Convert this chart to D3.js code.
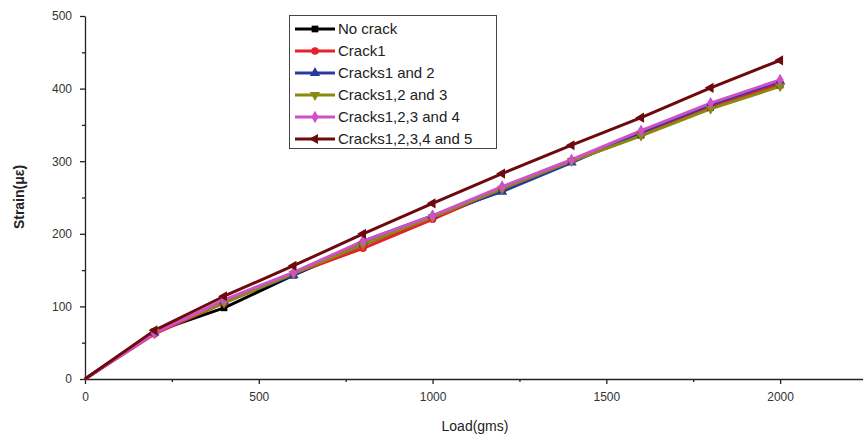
<!DOCTYPE html>
<html>
<head>
<meta charset="utf-8">
<script src="https://cdn.jsdelivr.net/npm/d3@7"></script>
<style>
  body { margin: 0; background: #fff; }
  svg { display: block; font-family: Arial, "Liberation Sans", sans-serif; }
</style>
</head>
<body>
<svg width="863" height="438"></svg>
<script>
// load values (gms)
var loads = [0, 200, 400, 600, 800, 1000, 1200, 1400, 1600, 1800, 2000];

// strain values per series
var noCrack   = [0, 65, 98, 143, 185, 222, 260, 300, 336, 374, 405];
var crack1    = [0, 62, 105, 145, 180, 220, 262, 300, 338, 375, 406];
var cracks12  = [0, 64, 107, 143, 190, 225, 258, 298, 340, 378, 410];
var cracks123 = [0, 65, 105, 145, 185, 223, 262, 300, 335, 372, 403];
var cracks1234 = [0, 63, 109, 147, 190, 225, 265, 302, 342, 380, 412];
var cracks12345 = [0, 67, 114, 156, 200, 242, 283, 322, 360, 401, 439];

var seriesNames = ["No crack", "Crack1", "Cracks1 and 2", "Cracks1,2 and 3", "Cracks1,2,3 and 4", "Cracks1,2,3,4 and 5"];
var seriesValues = [noCrack, crack1, cracks12, cracks123, cracks1234, cracks12345];
var colors = ["#000000", "#e8202a", "#2a3a9c", "#8a8a10", "#d050c8", "#6e0a0e"];
var symbols = [d3.symbolSquare, d3.symbolCircle, d3.symbolTriangle, d3.symbolTriangle, d3.symbolDiamond, d3.symbolTriangle];
var rotations = [0, 0, 0, 180, 0, -90];

var xTicks = [0, 500, 1000, 1500, 2000];
var yTicks = [0, 100, 200, 300, 400, 500];

var svg = d3.select("svg");

var x = d3.scaleLinear().domain([0, 2250]).range([85, 867]);
var y = d3.scaleLinear().domain([0, 500]).range([379, 16]);

// x axis
svg.append("g")
    .attr("transform", "translate(0," + y(0) + ")")
    .call(d3.axisBottom(x).tickValues(xTicks).tickFormat(d3.format("d")).tickSize(5).tickSizeOuter(0).tickPadding(8));
svg.append("g")
    .attr("transform", "translate(0," + y(0) + ")")
    .call(d3.axisBottom(x).tickValues([250, 750, 1250, 1750]).tickSize(3).tickFormat("").tickSizeOuter(0))
    .select(".domain").remove();

// y axis
svg.append("g")
    .attr("transform", "translate(" + x(0) + ",0)")
    .call(d3.axisLeft(y).tickValues(yTicks).tickFormat(d3.format("d")).tickSize(5).tickSizeOuter(0).tickPadding(8));
svg.append("g")
    .attr("transform", "translate(" + x(0) + ",0)")
    .call(d3.axisLeft(y).tickValues([50, 150, 250, 350, 450]).tickSize(3).tickFormat("").tickSizeOuter(0))
    .select(".domain").remove();

svg.selectAll(".tick text")
    .attr("font-size", 12)
    .attr("fill", "#333")
    .attr("font-family", "'Liberation Sans Narrow', Arial, sans-serif");
svg.selectAll(".domain, .tick line").attr("stroke", "#222").attr("stroke-width", 1.3);

// axis titles
svg.append("text")
    .attr("x", 475).attr("y", 431)
    .attr("text-anchor", "middle")
    .attr("font-size", 14)
    .attr("fill", "#222")
    .text("Load(gms)");

svg.append("text")
    .attr("transform", "translate(24,197) rotate(-90)")
    .attr("text-anchor", "middle")
    .attr("font-size", 14)
    .attr("font-weight", "bold")
    .attr("fill", "#222")
    .text("Strain(\u03bc\u03b5)");

// lines
var line = d3.line()
    .x(function(d, i) { return x(loads[i]); })
    .y(function(d) { return y(d); });

seriesValues.forEach(function(vals, s) {
  svg.append("path")
      .datum(vals)
      .attr("fill", "none")
      .attr("stroke", colors[s])
      .attr("stroke-width", 3)
      .attr("stroke-linejoin", "round")
      .attr("d", line);
});

seriesValues.forEach(function(vals, s) {
  svg.append("g").selectAll("path")
      .data(vals.slice(1))
      .enter().append("path")
      .attr("transform", function(d, i) {
        return "translate(" + x(loads[i + 1]) + "," + y(d) + ") rotate(" + rotations[s] + ")";
      })
      .attr("d", d3.symbol().type(symbols[s]).size(45))
      .attr("fill", colors[s]);
});

// legend
var legend = svg.append("g");
legend.append("rect")
    .attr("x", 289.5).attr("y", 15.5)
    .attr("width", 207).attr("height", 133)
    .attr("fill", "#fff")
    .attr("stroke", "#444")
    .attr("stroke-width", 1);

seriesNames.forEach(function(name, s) {
  var ly = 29 + s * 22;
  legend.append("line")
      .attr("x1", 295).attr("x2", 335)
      .attr("y1", ly).attr("y2", ly)
      .attr("stroke", colors[s]).attr("stroke-width", 3);
  legend.append("path")
      .attr("transform", "translate(315," + ly + ") rotate(" + rotations[s] + ")")
      .attr("d", d3.symbol().type(symbols[s]).size(45))
      .attr("fill", colors[s]);
  legend.append("text")
      .attr("x", 338).attr("y", ly + 5)
      .attr("font-size", 15)
      .attr("fill", "#222")
      .text(name);
});
</script>
</body>
</html>
